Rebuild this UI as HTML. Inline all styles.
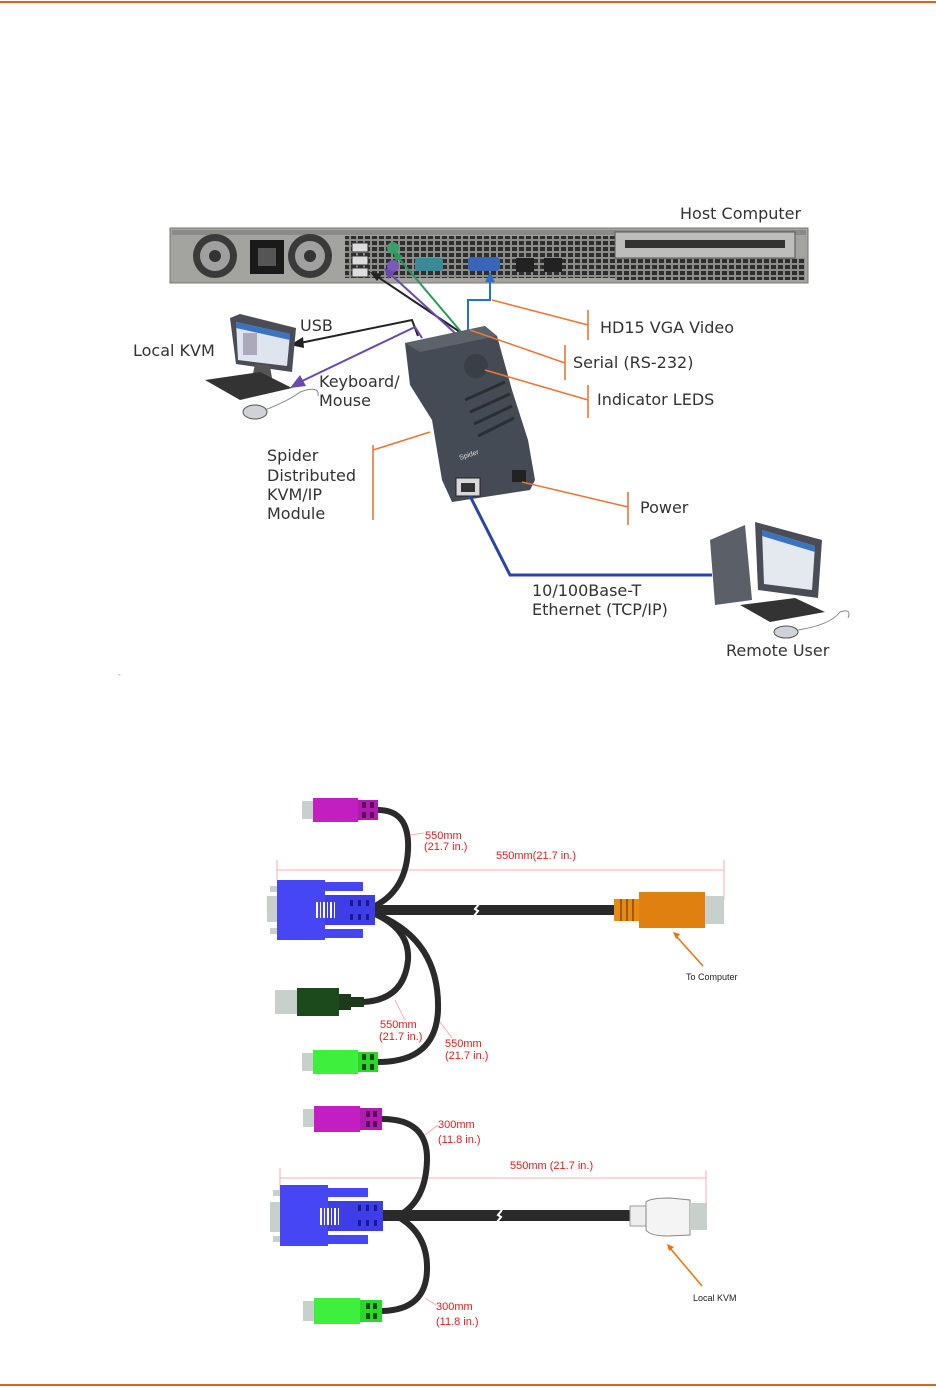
<!DOCTYPE html>
<html><head><meta charset="utf-8"><style>
html,body{margin:0;padding:0;background:#fff}
svg{display:block}
.t{font-family:"DejaVu Sans","Liberation Sans",sans-serif;font-size:16px;fill:#333}
.r{font-family:"Liberation Sans",sans-serif;font-size:11px;fill:#e02020}
.k{font-family:"Liberation Sans",sans-serif;font-size:9px;fill:#222}
</style></head><body>
<svg width="936" height="1388" viewBox="0 0 936 1388" xmlns="http://www.w3.org/2000/svg">
<defs>
<pattern id="vent" width="7" height="6" patternUnits="userSpaceOnUse"><rect width="7" height="6" fill="#8c8c8a"/><rect x="1" y="1" width="5" height="4" fill="#2e2e2e"/></pattern>
</defs>
<line x1="0" y1="2" x2="936" y2="2" stroke="#e0601e" stroke-width="2"/>
<line x1="0" y1="1385" x2="936" y2="1385" stroke="#e0601e" stroke-width="2"/>

<!-- Server -->
<rect x="170" y="228" width="638" height="55" fill="#a3a3a0" stroke="#777"/>
<rect x="172" y="230" width="634" height="5" fill="#8a8a88"/>
<circle cx="215" cy="256" r="22" fill="#3a3a3a"/><circle cx="215" cy="256" r="15" fill="#a0a0a0"/><circle cx="215" cy="256" r="6" fill="#333"/>
<circle cx="310" cy="256" r="22" fill="#3a3a3a"/><circle cx="310" cy="256" r="15" fill="#a0a0a0"/><circle cx="310" cy="256" r="6" fill="#333"/>
<rect x="250" y="240" width="34" height="34" fill="#1a1a1a"/><rect x="258" y="248" width="18" height="18" fill="#555"/>
<rect x="345" y="236" width="270" height="42" fill="url(#vent)"/>
<rect x="615" y="258" width="190" height="22" fill="url(#vent)"/>
<rect x="615" y="232" width="180" height="26" fill="#bdbdbb" stroke="#555"/>
<rect x="625" y="240" width="160" height="8" fill="#333"/>
<rect x="352" y="243" width="16" height="9" fill="#ddd" stroke="#333"/>
<rect x="352" y="256" width="16" height="9" fill="#ddd" stroke="#333"/>
<rect x="352" y="268" width="16" height="9" fill="#ddd" stroke="#333"/>
<circle cx="393" cy="248" r="6" fill="#3aa06a"/><circle cx="393" cy="266" r="6" fill="#7a5ab8"/>
<rect x="415" y="258" width="28" height="13" rx="3" fill="#3a8a9a"/>
<rect x="468" y="257" width="32" height="14" rx="3" fill="#3a66b8"/>
<rect x="516" y="258" width="18" height="14" fill="#222"/><rect x="544" y="258" width="18" height="14" fill="#222"/>

<!-- cables to server -->
<polyline points="460,332 375,275" fill="none" stroke="#222" stroke-width="2"/>
<polygon points="370,272 382,274 377,281" fill="#222"/>
<polyline points="456,334 388,272" fill="none" stroke="#6a4ab0" stroke-width="2"/>
<polygon points="384,268 395,272 388,279" fill="#6a4ab0"/>
<polyline points="462,333 396,255" fill="none" stroke="#2a9a5a" stroke-width="2"/>
<polygon points="393,251 403,256 396,262" fill="#2a9a5a"/>
<polyline points="468,332 468,300 490,300 490,278" fill="none" stroke="#2a70d0" stroke-width="2"/>
<polygon points="490,272 485,282 495,282" fill="#2a70d0"/>
<polyline points="418,336 412,320 300,343" fill="none" stroke="#222" stroke-width="2"/>
<polygon points="290,345 303,337 304,348" fill="#222"/>
<polyline points="422,338 415,327 300,382" fill="none" stroke="#6a4ab0" stroke-width="2"/>
<polygon points="290,388 300,375 306,386" fill="#6a4ab0"/>

<!-- Local KVM computer -->
<polygon points="230,318 240,314 296,328 292,372 236,364" fill="#4a4d55"/>
<polygon points="236,322 290,334 287,366 238,360" fill="#dfe5ee"/>
<polygon points="236,322 290,334 290,340 236,328" fill="#3a74c0"/>
<rect x="243" y="333" width="14" height="22" fill="#aab"/>
<polygon points="255,364 270,366 272,378 252,378" fill="#555"/>
<polygon points="205,380 260,372 292,388 240,400" fill="#333"/>
<ellipse cx="255" cy="412" rx="12" ry="7" fill="#cfd2d6" stroke="#555"/>
<path d="M265,410 Q290,400 300,392 Q320,385 318,396" fill="none" stroke="#888" stroke-width="1"/>

<!-- Spider device -->
<polygon points="405,343 485,326 497,336 512,390 528,440 535,480 530,490 452,502 442,480 432,420 410,385" fill="#454b54"/>
<polygon points="405,343 485,326 497,336 420,352" fill="#5d636b"/>
<circle cx="476" cy="366" r="12" fill="#3a3f46"/>
<g stroke="#2a2e34" stroke-width="3"><line x1="465" y1="400" x2="505" y2="382"/><line x1="470" y1="412" x2="510" y2="394"/><line x1="474" y1="424" x2="512" y2="406"/><line x1="478" y1="436" x2="514" y2="418"/></g>
<text x="460" y="460" font-family="Liberation Sans,sans-serif" font-size="7" fill="#ddd" transform="rotate(-18 460 460)">Spider</text>
<rect x="456" y="478" width="24" height="18" fill="#d8d8d8" stroke="#222"/><rect x="461" y="483" width="14" height="9" fill="#333"/>
<rect x="512" y="470" width="14" height="12" fill="#222"/>

<!-- ethernet -->
<polyline points="470,496 510,575 712,575" fill="none" stroke="#2a44a8" stroke-width="3"/>

<!-- Remote user -->
<polygon points="710,540 745,525 752,600 715,605" fill="#5a5f68"/>
<polygon points="755,522 822,540 818,598 758,590" fill="#4a4d55"/>
<polygon points="762,530 815,546 812,590 764,584" fill="#e4e8ef"/>
<polygon points="762,530 815,546 815,552 762,536" fill="#3a74c0"/>
<polygon points="740,605 795,598 825,612 770,622" fill="#333"/>
<ellipse cx="786" cy="632" rx="12" ry="6" fill="#cfd2d6" stroke="#555"/>
<path d="M798,630 Q830,625 840,612 Q852,608 848,618" fill="none" stroke="#888"/>

<!-- orange leaders -->
<g stroke="#e8783a" stroke-width="1.6" fill="none">
<line x1="492" y1="300" x2="588" y2="325"/><line x1="588" y1="310" x2="588" y2="340"/>
<line x1="470" y1="330" x2="565" y2="363"/><line x1="565" y1="345" x2="565" y2="380"/>
<line x1="485" y1="370" x2="588" y2="400"/><line x1="588" y1="385" x2="588" y2="418"/>
<line x1="373" y1="450" x2="430" y2="432"/><line x1="373" y1="445" x2="373" y2="520"/>
<line x1="522" y1="482" x2="628" y2="507"/><line x1="628" y1="492" x2="628" y2="525"/>
</g>
<text x="118" y="677" font-size="8" fill="#888">-</text>

<g class="t">
<text x="680" y="219">Host Computer</text>
<text x="300" y="331">USB</text>
<text x="133" y="356">Local KVM</text>
<text x="319" y="387">Keyboard/</text>
<text x="319" y="406">Mouse</text>
<text x="600" y="333">HD15 VGA Video</text>
<text x="573" y="368">Serial (RS-232)</text>
<text x="597" y="405">Indicator LEDS</text>
<text x="267" y="461">Spider</text>
<text x="267" y="481">Distributed</text>
<text x="267" y="500">KVM/IP</text>
<text x="267" y="519">Module</text>
<text x="640" y="513">Power</text>
<text x="532" y="596">10/100Base-T</text>
<text x="532" y="615">Ethernet (TCP/IP)</text>
<text x="726" y="656">Remote User</text>
</g>

<!-- Cable 1 -->
<line x1="277" y1="860" x2="277" y2="880" stroke="#f4b0b0"/>
<line x1="277" y1="870" x2="724" y2="870" stroke="#f4b0b0"/>
<line x1="724" y1="860" x2="724" y2="900" stroke="#f4b0b0"/>
<g fill="none" stroke="#2a2a2a" stroke-width="6">
<path d="M378,810 Q410,810 408,850 Q406,890 375,906"/>
<path d="M375,914 Q410,930 408,960 Q404,1000 363,1002"/>
<path d="M376,914 Q440,940 438,1010 Q436,1062 378,1062"/>
</g>
<rect x="374" y="905" width="240" height="10" fill="#2a2a2a"/>
<path d="M474,916 l4,-5 -3,-2 4,-5" stroke="#fff" stroke-width="2" fill="none"/>
<rect x="302" y="801" width="12" height="18" fill="#c8d0cc"/>
<rect x="313" y="798" width="45" height="24" fill="#c21ec2"/>
<rect x="358" y="800" width="20" height="20" fill="#b01cb0"/>
<g fill="#5a0a5a"><rect x="362" y="802" width="4" height="6"/><rect x="370" y="802" width="4" height="6"/><rect x="362" y="812" width="4" height="6"/><rect x="370" y="812" width="4" height="6"/></g>
<rect x="267" y="896" width="11" height="26" fill="#c8d0cc"/>
<rect x="270" y="886" width="8" height="6" fill="#c8d0cc"/><rect x="270" y="928" width="8" height="6" fill="#c8d0cc"/>
<rect x="277" y="880" width="48" height="60" fill="#4646f4"/>
<rect x="325" y="882" width="38" height="9" fill="#4646f4"/><rect x="325" y="929" width="38" height="9" fill="#4646f4"/>
<rect x="325" y="895" width="50" height="30" fill="#3e3ee8"/>
<g fill="#fff"><rect x="316" y="902" width="2" height="16"/><rect x="320" y="902" width="1" height="16"/><rect x="323" y="902" width="2" height="16"/><rect x="327" y="902" width="1" height="16"/><rect x="330" y="902" width="2" height="16"/><rect x="334" y="902" width="1" height="16"/></g>
<g fill="#1a1a8a"><rect x="350" y="900" width="3" height="6"/><rect x="358" y="900" width="3" height="6"/><rect x="366" y="900" width="3" height="6"/><rect x="350" y="914" width="3" height="6"/><rect x="358" y="914" width="3" height="6"/><rect x="366" y="914" width="3" height="6"/></g>
<rect x="614" y="899" width="26" height="22" fill="#e88a10"/>
<g fill="#9a5a08"><rect x="620" y="899" width="2" height="22"/><rect x="626" y="899" width="2" height="22"/><rect x="632" y="899" width="2" height="22"/></g>
<rect x="639" y="892" width="66" height="36" fill="#e08010"/>
<rect x="705" y="896" width="19" height="28" fill="#c8d0cc"/>
<rect x="275" y="990" width="23" height="24" fill="#c8d0cc"/>
<rect x="297" y="988" width="42" height="28" fill="#1c4a1c"/>
<rect x="339" y="994" width="12" height="16" fill="#1c3a1c"/>
<rect x="350" y="997" width="14" height="10" fill="#1c3a1c"/>
<rect x="302" y="1053" width="12" height="18" fill="#c8d0cc"/>
<rect x="313" y="1050" width="45" height="24" fill="#3ef03e"/>
<rect x="358" y="1052" width="20" height="20" fill="#2ad82a"/>
<g fill="#0a4a0a"><rect x="362" y="1054" width="4" height="6"/><rect x="370" y="1054" width="4" height="6"/><rect x="362" y="1064" width="4" height="6"/><rect x="370" y="1064" width="4" height="6"/></g>
<g stroke="#f4a0a0" stroke-width="0.8"><line x1="410" y1="835" x2="424" y2="833"/><line x1="395" y1="1000" x2="405" y2="1020"/><line x1="440" y1="1022" x2="452" y2="1038"/></g>
<g class="r">
<text x="425" y="839">550mm</text><text x="424" y="850">(21.7 in.)</text>
<text x="496" y="859">550mm(21.7 in.)</text>
<text x="380" y="1028">550mm</text><text x="379" y="1040">(21.7 in.)</text>
<text x="445" y="1047">550mm</text><text x="445" y="1059">(21.7 in.)</text>
</g>
<line x1="703" y1="966" x2="676" y2="936" stroke="#f07010" stroke-width="1.5"/>
<polygon points="673,932 680,934 676,939" fill="#f07010"/>
<text class="k" x="686" y="980">To Computer</text>

<!-- Cable 2 -->
<line x1="280" y1="1168" x2="280" y2="1190" stroke="#f4b0b0"/>
<line x1="280" y1="1178" x2="706" y2="1178" stroke="#f4b0b0"/>
<line x1="706" y1="1170" x2="706" y2="1205" stroke="#f4b0b0"/>
<g fill="none" stroke="#2a2a2a" stroke-width="6">
<path d="M382,1119 Q428,1119 427,1160 Q426,1200 400,1215"/>
<path d="M400,1218 Q428,1235 427,1270 Q426,1310 382,1311"/>
</g>
<rect x="383" y="1210" width="247" height="11" fill="#2a2a2a"/>
<path d="M497,1222 l4,-5 -3,-2 4,-5" stroke="#fff" stroke-width="2" fill="none"/>
<rect x="303" y="1109" width="12" height="18" fill="#c8d0cc"/>
<rect x="314" y="1106" width="46" height="26" fill="#c21ec2"/>
<rect x="360" y="1108" width="22" height="22" fill="#b01cb0"/>
<g fill="#5a0a5a"><rect x="366" y="1111" width="4" height="6"/><rect x="373" y="1111" width="4" height="6"/><rect x="366" y="1121" width="4" height="6"/><rect x="373" y="1121" width="4" height="6"/></g>
<rect x="270" y="1202" width="11" height="30" fill="#c8d0cc"/>
<rect x="273" y="1190" width="8" height="6" fill="#c8d0cc"/><rect x="273" y="1236" width="8" height="6" fill="#c8d0cc"/>
<rect x="280" y="1185" width="48" height="61" fill="#4646f4"/>
<rect x="328" y="1188" width="40" height="9" fill="#4646f4"/><rect x="328" y="1235" width="40" height="9" fill="#4646f4"/>
<rect x="328" y="1201" width="55" height="30" fill="#3e3ee8"/>
<g fill="#fff"><rect x="320" y="1208" width="2" height="17"/><rect x="324" y="1208" width="1" height="17"/><rect x="327" y="1208" width="2" height="17"/><rect x="331" y="1208" width="1" height="17"/><rect x="334" y="1208" width="2" height="17"/><rect x="338" y="1208" width="1" height="17"/></g>
<g fill="#1a1a8a"><rect x="358" y="1205" width="3" height="6"/><rect x="366" y="1205" width="3" height="6"/><rect x="374" y="1205" width="3" height="6"/><rect x="358" y="1220" width="3" height="6"/><rect x="366" y="1220" width="3" height="6"/><rect x="374" y="1220" width="3" height="6"/></g>
<rect x="630" y="1206" width="16" height="20" fill="#eee" stroke="#999"/>
<path d="M646,1202 Q650,1198 670,1198 L690,1200 L690,1235 L668,1236 Q650,1236 646,1230 Z" fill="#f4f4f4" stroke="#888"/>
<rect x="690" y="1203" width="17" height="27" fill="#c8d0cc"/>
<rect x="303" y="1301" width="12" height="20" fill="#c8d0cc"/>
<rect x="314" y="1298" width="46" height="26" fill="#3ef03e"/>
<rect x="360" y="1300" width="22" height="22" fill="#2ad82a"/>
<g fill="#0a4a0a"><rect x="366" y="1303" width="4" height="6"/><rect x="373" y="1303" width="4" height="6"/><rect x="366" y="1313" width="4" height="6"/><rect x="373" y="1313" width="4" height="6"/></g>
<g stroke="#f4a0a0" stroke-width="0.8"><line x1="425" y1="1135" x2="438" y2="1125"/><line x1="425" y1="1298" x2="436" y2="1305"/></g>
<g class="r">
<text x="438" y="1128">300mm</text><text x="438" y="1143">(11.8 in.)</text>
<text x="510" y="1169">550mm (21.7 in.)</text>
<text x="436" y="1310">300mm</text><text x="436" y="1325">(11.8 in.)</text>
</g>
<line x1="702" y1="1286" x2="670" y2="1248" stroke="#f07010" stroke-width="1.5"/>
<polygon points="667,1244 674,1247 669,1251" fill="#f07010"/>
<text class="k" x="693" y="1301">Local KVM</text>
</svg>
</body></html>
